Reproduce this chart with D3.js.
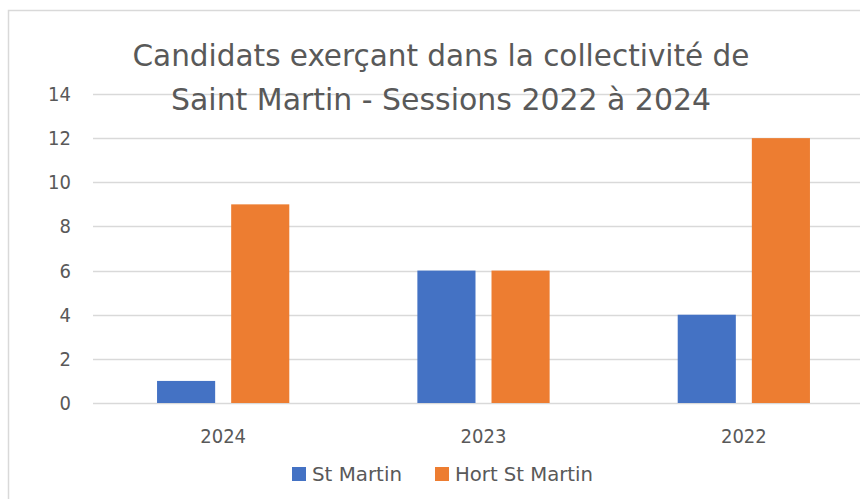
<!DOCTYPE html>
<html>
<head>
<meta charset="utf-8">
<script src="https://cdn.jsdelivr.net/npm/d3@7"></script>
<style>
  body { margin: 0; background: #fff; }
  svg { display: block; }
  text { font-family: 'Liberation Sans Narrow', 'DejaVu Sans Condensed', sans-serif; fill: #595959; }
</style>
</head>
<body>
<svg width="860" height="499"></svg>
<script>
const years = ['2024', '2023', '2022'];
const seriesNames = ['St Martin', 'Hort St Martin'];
const stMartin = [1, 6, 4];
const hortStMartin = [9, 6, 12];
const yTicks = [0, 2, 4, 6, 8, 10, 12, 14];
const titleLines = ['Candidats exerçant dans la collectivité de', 'Saint Martin - Sessions 2022 à 2024'];
const colors = ['#4472c4', '#ed7d31'];

const svg = d3.select('svg');

// chart frame (right and bottom edges fall outside the picture)
svg.append('rect')
    .attr('x', 8.5).attr('y', 10.5)
    .attr('width', 900).attr('height', 520)
    .attr('fill', '#fff')
    .attr('stroke', '#d9d9d9')
    .attr('stroke-width', 1.5);

const x = d3.scaleBand()
    .domain(years)
    .range([93, 874]);
const bw = x.bandwidth();
const x1 = d3.scaleBand()
    .domain(seriesNames)
    .range([bw * 0.246, bw * 0.754])
    .paddingInner(0.216);
const y = d3.scaleLinear()
    .domain([0, 14])
    .range([403, 94]);

// gridlines
svg.append('g')
    .selectAll('line')
    .data(yTicks)
    .join('line')
    .attr('x1', 93).attr('x2', 860)
    .attr('y1', d => Math.round(y(d)) + 0.5)
    .attr('y2', d => Math.round(y(d)) + 0.5)
    .attr('stroke', '#d9d9d9')
    .attr('stroke-width', 1.5);

// y labels
svg.append('g')
    .selectAll('text')
    .data(yTicks)
    .join('text')
    .attr('x', 71)
    .attr('y', d => y(d))
    .attr('dy', '0.35em')
    .attr('text-anchor', 'end')
    .style('font-size', '20px')
    .text(d => d);

// bars
const rows = years.map((yr, i) => ({ year: yr, values: [stMartin[i], hortStMartin[i]] }));
svg.append('g')
    .selectAll('g')
    .data(rows)
    .join('g')
    .attr('transform', d => `translate(${x(d.year)},0)`)
    .selectAll('rect')
    .data(d => d.values.map((v, j) => ({ name: seriesNames[j], value: v, color: colors[j] })))
    .join('rect')
    .attr('x', d => x1(d.name))
    .attr('width', x1.bandwidth())
    .attr('y', d => y(d.value))
    .attr('height', d => y(0) - y(d.value))
    .attr('fill', d => d.color);

// x labels
svg.append('g')
    .selectAll('text')
    .data(years)
    .join('text')
    .attr('x', d => x(d) + bw / 2)
    .attr('y', 443)
    .attr('text-anchor', 'middle')
    .style('font-size', '20px')
    .text(d => d);

// title
const titleWidths = [617, 540];
svg.append('g')
    .selectAll('text')
    .data(titleLines)
    .join('text')
    .attr('x', 441)
    .attr('y', (d, i) => 66 + i * 44)
    .attr('text-anchor', 'middle')
    .attr('textLength', (d, i) => titleWidths[i])
    .attr('lengthAdjust', 'spacingAndGlyphs')
    .style('font-size', '30px')
    .text(d => d);

// legend
const legendX = [292, 435];
const legendW = [90, 138];
const legend = svg.append('g')
    .selectAll('g')
    .data(seriesNames)
    .join('g')
    .attr('transform', (d, i) => `translate(${legendX[i]},467)`);
legend.append('rect')
    .attr('width', 14).attr('height', 14)
    .attr('fill', (d, i) => colors[i]);
legend.append('text')
    .attr('x', 20).attr('y', 14)
    .attr('textLength', (d, i) => legendW[i])
    .attr('lengthAdjust', 'spacingAndGlyphs')
    .style('font-size', '20px')
    .text(d => d);
</script>
</body>
</html>
